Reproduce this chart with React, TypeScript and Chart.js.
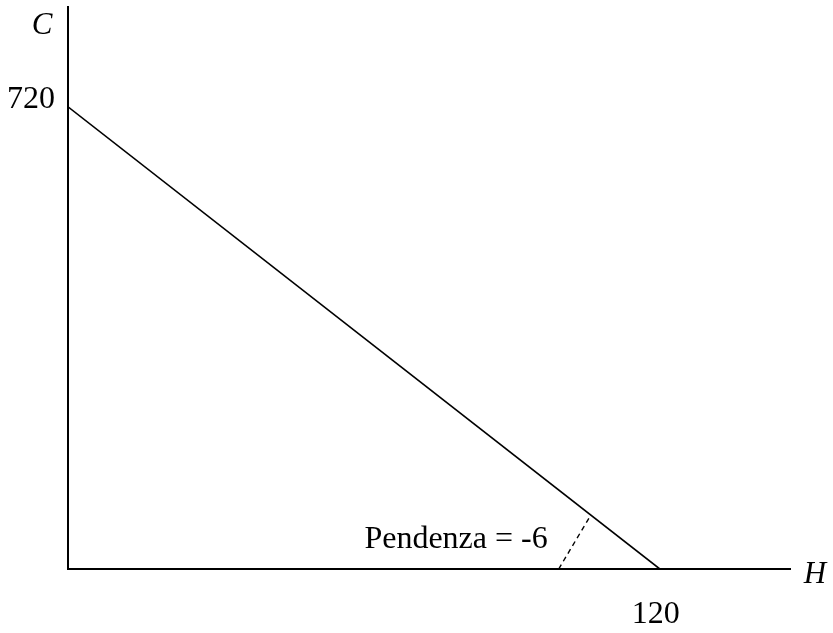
import React, { useEffect, useRef } from "react";
import { Chart, registerables } from "chart.js";

Chart.register(...registerables);

// Budget line: C = 720 - 6H
const lineH = [0, 120];
const lineC = [720, 0];
// Dashed slope marker
const dashH = [99.5, 106];
const dashC = [0, 84];

const xMax = 146.6;
const yMax = 877;

const yTickValue = 720;
const xTickValue = 120;
const yTickLabel = "720";
const xTickLabel = "120";
const yAxisTitle = "C";
const xAxisTitle = "H";
const slopeLabel = "Pendenza = -6";

const FONT = '"Liberation Serif", "Times New Roman", serif';

const overlayPlugin = {
  id: "overlay",
  afterDraw(chart: any) {
    const { ctx, chartArea, scales } = chart;
    const xs = scales.x;
    const ys = scales.y;
    ctx.save();
    // axes
    ctx.strokeStyle = "#000";
    ctx.lineWidth = 2;
    ctx.beginPath();
    ctx.moveTo(chartArea.left, chartArea.top);
    ctx.lineTo(chartArea.left, chartArea.bottom);
    ctx.lineTo(chartArea.right, chartArea.bottom);
    ctx.stroke();

    ctx.fillStyle = "#000";
    ctx.textBaseline = "alphabetic";
    ctx.font = `32px ${FONT}`;
    // y tick
    ctx.textAlign = "right";
    ctx.fillText(yTickLabel, chartArea.left - 13, ys.getPixelForValue(yTickValue) + 1);
    // x tick
    ctx.textAlign = "center";
    ctx.fillText(xTickLabel, xs.getPixelForValue(xTickValue) - 4, chartArea.bottom + 54);
    // slope label
    ctx.textAlign = "right";
    ctx.fillText(slopeLabel, xs.getPixelForValue(dashH[0]) - 11, chartArea.bottom - 21);
    // axis titles
    ctx.font = `italic 31px ${FONT}`;
    ctx.textAlign = "center";
    ctx.fillText(yAxisTitle, chartArea.left - 26, chartArea.top + 28);
    ctx.fillText(xAxisTitle, chartArea.right + 24, chartArea.bottom + 14);
    ctx.restore();
  },
};

export default function App() {
  const ref = useRef<HTMLCanvasElement>(null);
  useEffect(() => {
    if (!ref.current) return;
    const chart = new Chart(ref.current, {
      type: "scatter",
      data: {
        datasets: [
          {
            data: lineH.map((h, i) => ({ x: h, y: lineC[i] })),
            showLine: true,
            borderColor: "#000",
            borderWidth: 1.6,
            pointRadius: 0,
          },
          {
            data: dashH.map((h, i) => ({ x: h, y: dashC[i] })),
            showLine: true,
            borderColor: "#000",
            borderWidth: 1.4,
            borderDash: [5, 4],
            pointRadius: 0,
          },
        ],
      },
      options: {
        responsive: false,
        animation: false,
        layout: { padding: { left: 68, top: 6, right: 42, bottom: 64 } },
        plugins: { legend: { display: false }, tooltip: { enabled: false } },
        scales: {
          x: { type: "linear", min: 0, max: xMax, display: false },
          y: { type: "linear", min: 0, max: yMax, display: false },
        },
      },
      plugins: [overlayPlugin],
    });
    return () => chart.destroy();
  }, []);
  return (
    <div style={{ position: "fixed", left: 0, top: 0, width: 833, height: 633, background: "#fff" }}>
      <canvas ref={ref} width={833} height={633} style={{ display: "block" }} />
    </div>
  );
}
